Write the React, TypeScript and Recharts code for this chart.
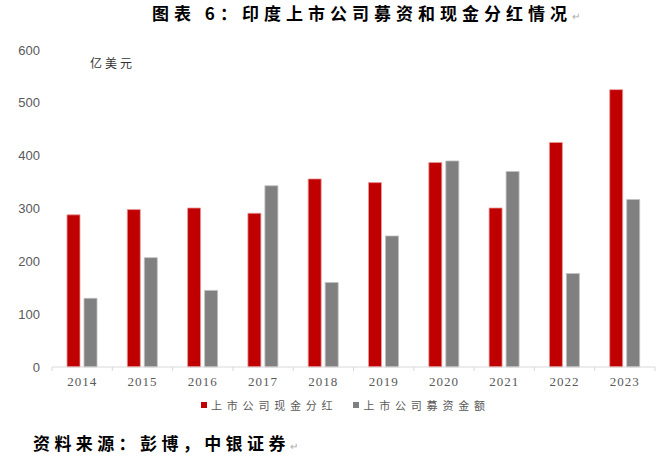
import React from "react";
import { BarChart, Bar, XAxis, YAxis } from "recharts";

const years = ["2014", "2015", "2016", "2017", "2018", "2019", "2020", "2021", "2022", "2023"];
const dividends = [288, 298, 301, 291, 356, 349, 387, 301, 425, 525];
const raised = [130, 207, 145, 343, 160, 248, 390, 370, 177, 317];
const yTicks = [0, 100, 200, 300, 400, 500, 600];

const seriesNames = { dividends: "上市公司现金分红", raised: "上市公司募资金额" };
const title = "图表 6：印度上市公司募资和现金分红情况";
const unitLabel = "亿美元";
const sourceText = "资料来源：彭博，中银证券";

const data = years.map((y, i) => ({ year: y, dividends: dividends[i], raised: raised[i] }));

const RED = "#C00000";
const GRAY = "#808080";

const XTick = (props: any) => {
  const { x, y, payload, index, visibleTicksCount } = props;
  const off = payload && payload.offset ? payload.offset : 30.15;
  const ay = y - 8;
  const isLast = index === (visibleTicksCount ?? years.length) - 1;
  return (
    <g>
      <line x1={x - off} x2={x - off} y1={ay} y2={ay + 4} stroke="#d9d9d9" strokeWidth={1} />
      {isLast && <line x1={x + off} x2={x + off} y1={ay} y2={ay + 4} stroke="#d9d9d9" strokeWidth={1} />}
      <text
        x={x}
        y={ay + 14}
        textAnchor="middle"
        dominantBaseline="central"
        fill="#595959"
        fontFamily="'Liberation Serif', 'Times New Roman', serif"
        fontSize={13}
        letterSpacing={1}
      >
        {payload.value}
      </text>
    </g>
  );
};

export default function App() {
  return (
    <div style={{ position: "absolute", left: 0, top: 0, width: 669, height: 469, background: "#fff", overflow: "hidden" }}>
      <div
        style={{
          position: "absolute",
          left: 152,
          top: 1,
          whiteSpace: "nowrap",
          fontFamily: "'Noto Sans CJK SC', sans-serif",
          fontWeight: 700,
          fontSize: 17,
          letterSpacing: 5,
          color: "#000",
          lineHeight: "24px",
        }}
      >
        {title}
        <span style={{ color: "#aaa", fontSize: 10, fontWeight: 400, letterSpacing: 0 }}>↵</span>
      </div>
      <BarChart
        width={669}
        height={469}
        data={data}
        margin={{ top: 50, right: 14, left: 12, bottom: 71 }}
        barSize={13}
        barGap={4}
      >
        <XAxis
          dataKey="year"
          tickLine={false}
          axisLine={{ stroke: "#d9d9d9" }}
          tick={<XTick />}
          height={31}
          interval={0}
        />
        <YAxis
          domain={[0, 600]}
          ticks={yTicks}
          axisLine={false}
          tickLine={false}
          tickMargin={6}
          width={40}
          tick={{ fill: "#595959", fontSize: 13, fontFamily: "'Liberation Sans', Arial, sans-serif" }}
        />
        <Bar dataKey="dividends" name={seriesNames.dividends} fill={RED} stroke="#e89a9a" strokeWidth={0.8} isAnimationActive={false} />
        <Bar dataKey="raised" name={seriesNames.raised} fill={GRAY} stroke="#c0c0c0" strokeWidth={0.8} isAnimationActive={false} />
      </BarChart>
      <div
        style={{
          position: "absolute",
          left: 90,
          top: 55,
          fontFamily: "'Noto Sans CJK SC', sans-serif",
          fontSize: 12,
          letterSpacing: 3,
          color: "#333",
          lineHeight: "16px",
        }}
      >
        {unitLabel}
      </div>
      <div
        style={{
          position: "absolute",
          left: 201,
          top: 397,
          display: "flex",
          alignItems: "center",
          fontFamily: "'Noto Sans CJK SC', sans-serif",
          fontSize: 11,
          letterSpacing: 4.8,
          color: "#595959",
          lineHeight: "16px",
          whiteSpace: "nowrap",
        }}
      >
        <span style={{ display: "inline-block", width: 6, height: 6, background: RED, marginRight: 4 }} />
        <span>{seriesNames.dividends}</span>
        <span style={{ display: "inline-block", width: 6, height: 6, background: GRAY, marginLeft: 16, marginRight: 4 }} />
        <span>{seriesNames.raised}</span>
      </div>
      <div
        style={{
          position: "absolute",
          left: 33,
          top: 431,
          fontFamily: "'Noto Sans CJK SC', sans-serif",
          fontWeight: 700,
          fontSize: 17,
          letterSpacing: 4.4,
          color: "#000",
          lineHeight: "24px",
          whiteSpace: "nowrap",
        }}
      >
        {sourceText}
        <span style={{ color: "#aaa", fontSize: 10, fontWeight: 400, letterSpacing: 0 }}>↵</span>
      </div>
    </div>
  );
}
